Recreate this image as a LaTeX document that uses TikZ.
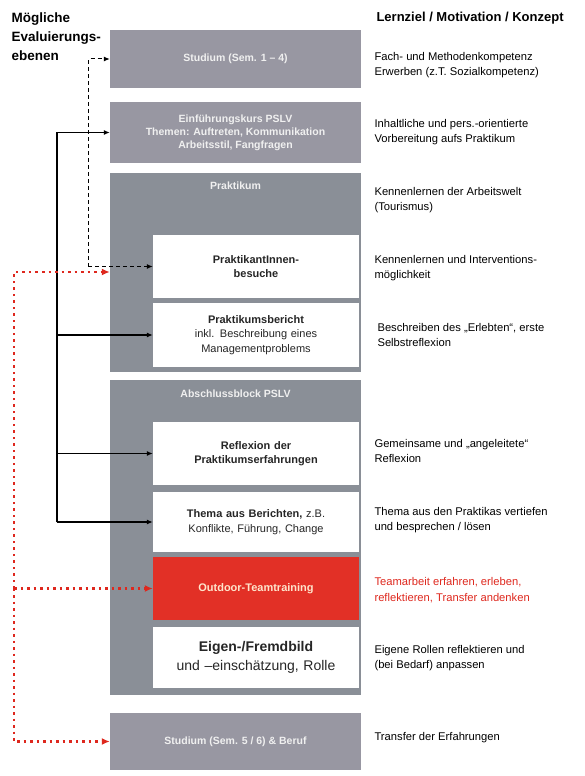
\documentclass[tikz,border=0pt]{standalone}
\usepackage{fontspec}
\setmainfont{Liberation Sans}
\usepackage{xcolor}
\usepackage{tikz}
\usetikzlibrary{arrows.meta,positioning}

\definecolor{blockgray}{RGB}{138,143,151}
\definecolor{topgray}{RGB}{152,151,162}
\definecolor{teamred}{RGB}{226,48,38}
\definecolor{notered}{RGB}{222,40,30}

\begin{document}
\begin{tikzpicture}[x=1pt,y=-1pt,
    block/.style={fill=blockgray, inner sep=0pt, minimum width=251pt},
    title/.style={text=white!88!gray, font=\fontsize{10.5}{13}\selectfont\bfseries, align=center},
    inner/.style={fill=white, inner sep=0pt, minimum width=206pt, text width=204pt, align=center,
        font=\fontsize{11}{14.5}\selectfont\bfseries, text=black!85},
    note/.style={anchor=west, align=left, font=\fontsize{11.2}{15.5}\selectfont, text=black},
    head/.style={font=\fontsize{13.5}{19}\selectfont\bfseries, align=left},
    solid arrow/.style={line width=1.1pt, -{Latex[length=6pt,width=5pt]}},
    dash arrow/.style={line width=1pt, dash pattern=on 4pt off 3pt, -{Latex[length=6pt,width=5pt]}},
    red arrow/.style={draw=notered, line width=2.3pt, dash pattern=on 2.5pt off 4pt,
        -{Latex[length=8pt,width=7pt]}, notered}]

    \useasboundingbox (0,0) rectangle (584,776);

    % headings
    \node[head, anchor=north west] (hleft) at (8,9) {Mögliche\\Evaluierungs-\\ebenen};
    \node[head, anchor=west, font=\fontsize{13}{16}\selectfont\bfseries] (hright) at (373,18) {Lernziel / Motivation / Konzept};

    % gray column
    \node[block, fill=topgray, minimum height=58pt] (stud1) at (235.5,59) {};
    \node[title] at (stud1) {Studium (Sem. 1 -- 4)};
    \node[block, fill=topgray, minimum height=61pt] (einf) at (235.5,132.5) {};
    \node[title] at (einf) {Einführungskurs PSLV\\Themen: Auftreten, Kommunikation\\Arbeitsstil, Fangfragen};
    \node[block, minimum height=199pt] (prakt) at (235.5,272) {};
    \node[title] at (235.5,186) {Praktikum};
    \node[block, minimum height=315pt] (absch) at (235.5,537.5) {};
    \node[title] at (235.5,394) {Abschlussblock PSLV};
    \node[block, fill=topgray, minimum height=57pt] (stud2) at (235.5,741.5) {};
    \node[title] at (stud2) {Studium (Sem. 5 / 6) \& Beruf};

    % inner boxes
    \node[inner, minimum height=63pt] (besuch) at (256,266.5) {PraktikantInnen-\\besuche};
    \node[inner, minimum height=64pt, font=\fontsize{11}{14.5}\selectfont] (bericht) at (256,335)
        {\textbf{Praktikumsbericht}\\inkl. Beschreibung eines\\Managementproblems};
    \node[inner, minimum height=63pt] (reflex) at (256,453.5) {Reflexion der\\Praktikumserfahrungen};
    \node[inner, minimum height=60pt, font=\fontsize{11}{14.5}\selectfont] (thema) at (256,522)
        {\textbf{Thema aus Berichten,} z.B.\\Konflikte, Führung, Change};
    \node[inner, fill=teamred, minimum height=63pt, text=white!80!orange] (outdoor) at (256,588.5) {Outdoor-Teamtraining};
    \node[inner, minimum height=61pt, font=\fontsize{14}{19}\selectfont] (eigen) at (256,657.5)
        {\textbf{Eigen-/Fremdbild}\\und --einschätzung, Rolle};

    % notes
    \node[note] (t1) at (371,65) {Fach- und Methodenkompetenz\\Erwerben (z.T. Sozialkompetenz)};
    \node[note] (t2) at (371,132) {Inhaltliche und pers.-orientierte\\Vorbereitung aufs Praktikum};
    \node[note] (t3) at (371,200) {Kennenlernen der Arbeitswelt\\(Tourismus)};
    \node[note] (t4) at (371,268) {Kennenlernen und Interventions-\\möglichkeit};
    \node[note] (t5) at (374,335) {Beschreiben des „Erlebten“, erste\\Selbstreflexion};
    \node[note] (t6) at (371,451) {Gemeinsame und „angeleitete“\\Reflexion};
    \node[note] (t7) at (371,520) {Thema aus den Praktikas vertiefen\\und besprechen / lösen};
    \node[note, text=notered] (t8) at (371,590) {Teamarbeit erfahren, erleben,\\reflektieren, Transfer andenken};
    \node[note] (t9) at (371,658) {Eigene Rollen reflektieren und\\(bei Bedarf) anpassen};
    \node[note] (t10) at (371,738) {Transfer der Erfahrungen};

    % evaluation levels
    \coordinate (dk) at (88,266.5);
    \coordinate (sk) at (57,522);
    \coordinate (rk) at (14,588.5);

    \draw[dash arrow] (dk) |- (stud1.west);
    \draw[dash arrow] (dk) -- (besuch.west);

    \draw[solid arrow] (sk) |- (einf.west);
    \draw[solid arrow] (sk) |- (bericht.west);
    \draw[solid arrow] (sk) |- (reflex.west);
    \draw[solid arrow] (sk) -- (thema.west);

    \draw[red arrow] (rk) |- (prakt.west);
    \draw[red arrow] (rk) -- (outdoor.west);
    \draw[red arrow] (rk) |- (stud2.west);
\end{tikzpicture}
\end{document}
